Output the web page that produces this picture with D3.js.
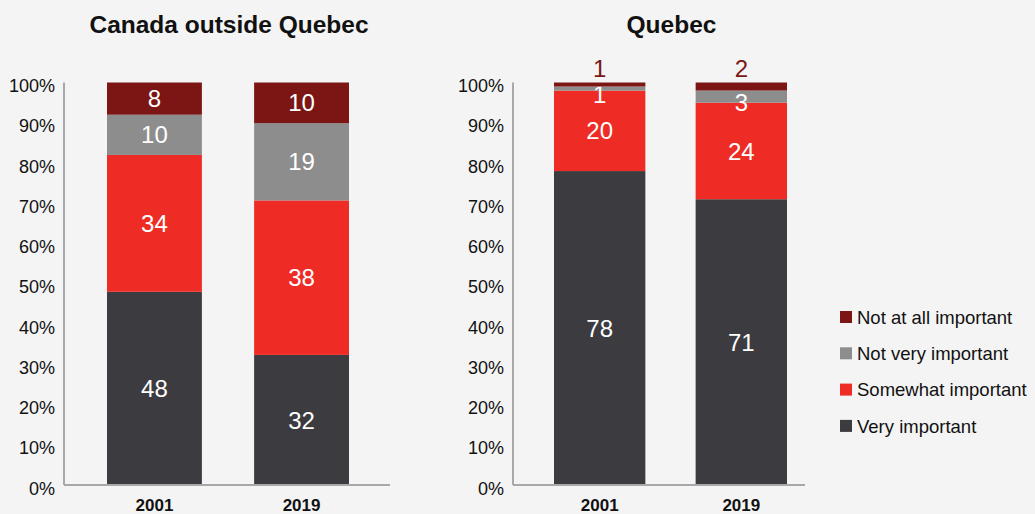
<!DOCTYPE html>
<html><head><meta charset="utf-8">
<script src="https://cdn.jsdelivr.net/npm/d3@7"></script>
<style>body{margin:0;background:#f4f4f4;font-family:"Liberation Sans",Arial,Helvetica,sans-serif}</style>
</head><body>
<svg id="c" width="1035" height="514"></svg>
<script>
const years = ["2001", "2019"];
const seriesNames = ["Very important", "Somewhat important", "Not very important", "Not at all important"];
const seriesColors = ["#3c3b40", "#ee2b25", "#8d8d8d", "#7b1615"];
const canadaVery = [48, 32];
const canadaSomewhat = [34, 38];
const canadaNotVery = [10, 19];
const canadaNotAtAll = [8, 10];
const quebecVery = [78, 71];
const quebecSomewhat = [20, 24];
const quebecNotVery = [1, 3];
const quebecNotAtAll = [1, 2];
const yTicks = [0, 10, 20, 30, 40, 50, 60, 70, 80, 90, 100];

const FONT = "Liberation Sans, Arial, sans-serif";
const svg = d3.select("#c");
svg.append("rect").attr("width", 1035).attr("height", 514).attr("fill", "#f4f4f4");

const y = d3.scaleLinear().domain([0, 1]).range([485, 82.5]);

function panel(title, axisX, axisEnd, barRange, values, smallOutside) {
  const g = svg.append("g");
  const x = d3.scaleBand().domain(years).range(barRange).paddingInner(0.355).paddingOuter(0);
  const rows = years.map((yr, i) => {
    const r = { year: yr };
    values.forEach((arr, s) => { r[s] = arr[i]; });
    return r;
  });
  const keys = values.map((_, s) => s);
  const stacked = d3.stack().keys(keys).offset(d3.stackOffsetExpand)(rows);
  stacked.forEach((layer, s) => {
    layer.forEach(d => {
      const y0 = y(d[0]), y1 = y(d[1]);
      const cx = x(d.data.year) + x.bandwidth() / 2;
      g.append("rect").attr("x", x(d.data.year)).attr("width", x.bandwidth())
        .attr("y", y1).attr("height", y0 - y1).attr("fill", seriesColors[s]);
      const v = d.data[s];
      if (s === 3 && smallOutside) {
        g.append("text").attr("x", cx).attr("y", y1 - 6)
          .attr("text-anchor", "middle").attr("font-size", 24).attr("fill", seriesColors[3]).text(v);
      } else {
        const h = y0 - y1;
        const mid = (y0 + y1) / 2 + (h < 20 ? 6 : 0);
        g.append("text").attr("x", cx).attr("y", mid)
          .attr("dy", "0.36em").attr("text-anchor", "middle").attr("font-size", 24)
          .attr("fill", "#ffffff").text(v);
      }
    });
  });
  // y axis
  const ya = d3.axisLeft(y).tickValues(yTicks.map(t => t / 100)).tickSize(0).tickPadding(9).tickFormat(d => Math.round(d * 100) + "%");
  const yg = g.append("g").attr("transform", `translate(${axisX},0)`).call(ya);
  yg.select(".domain").remove();
  yg.selectAll("text").attr("font-size", 18).attr("fill", "#111").attr("font-family", FONT).attr("dy", "0.5em");
  g.append("line").attr("x1", axisX).attr("x2", axisX).attr("y1", y(1)).attr("y2", y(0)).attr("stroke", "#a8a8a8").attr("stroke-width", 2);
  g.append("line").attr("x1", axisX).attr("x2", axisEnd).attr("y1", y(0)).attr("y2", y(0)).attr("stroke", "#a8a8a8").attr("stroke-width", 2);
  // x axis labels
  const xa = d3.axisBottom(x).tickSize(0).tickPadding(14);
  const xg = g.append("g").attr("transform", `translate(0,${y(0)})`).call(xa);
  xg.select(".domain").remove();
  xg.selectAll("text").attr("font-size", 17).attr("font-weight", "bold").attr("fill", "#111").attr("font-family", FONT);
  // title
  g.append("text").attr("x", (barRange[0] + barRange[1]) / 2 + 1).attr("y", 33).attr("text-anchor", "middle")
    .attr("font-size", 24.5).attr("font-weight", "bold").attr("fill", "#111").text(title);
}

panel("Canada outside Quebec", 64, 390, [107, 349], [canadaVery, canadaSomewhat, canadaNotVery, canadaNotAtAll], false);
panel("Quebec", 513, 805, [554, 787], [quebecVery, quebecSomewhat, quebecNotVery, quebecNotAtAll], true);

// legend
const legendOrder = [3, 2, 1, 0];
const lg = svg.append("g");
legendOrder.forEach((s, i) => {
  const ly = 317 + i * 36.3;
  lg.append("rect").attr("x", 840).attr("y", ly - 6).attr("width", 12).attr("height", 12).attr("fill", seriesColors[s]);
  lg.append("text").attr("x", 857).attr("y", ly).attr("dy", "0.36em").attr("font-size", 18.5).attr("fill", "#111").text(seriesNames[s]);
});
</script>
</body></html>
